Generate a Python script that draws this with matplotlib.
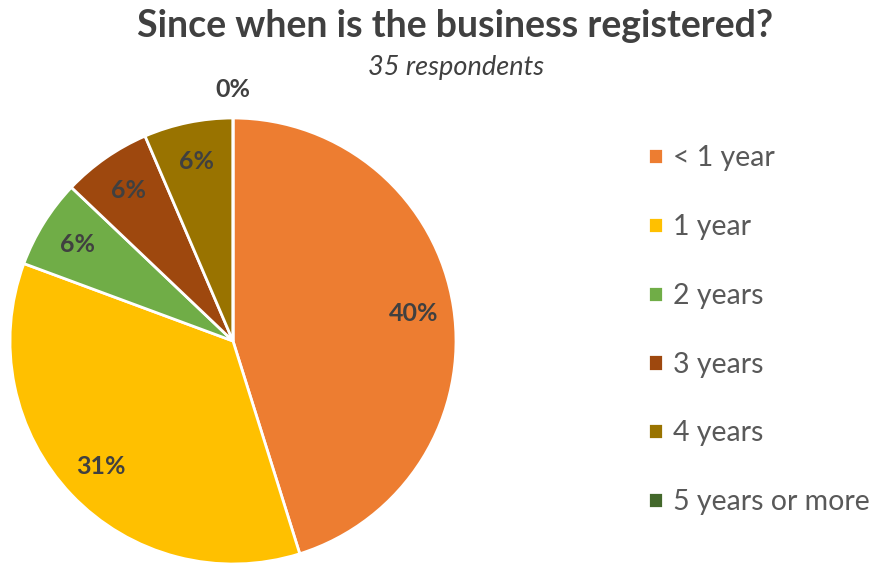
"""Pie chart: since when is the business registered (35 respondents)."""
import matplotlib
matplotlib.use("Agg")
import matplotlib.pyplot as plt
import numpy as np

plt.rcParams["font.family"] = ["Lato", "DejaVu Sans"]

categories = ["< 1 year", "1 year", "2 years", "3 years", "4 years", "5 years or more"]
counts = [14, 11, 2, 2, 2, 0]
n_respondents = 35
colors = ["#ED7D31", "#FFC000", "#70AD47", "#9E480E", "#997300", "#43682B"]

TEXT = "#404040"

fig = plt.figure(figsize=(8.74, 5.66), dpi=100)
# square pie area, in pixels: centre (233, 341), radius 223
W, H = 874, 566
cx, cy, r = 233, 341, 223
ax = fig.add_axes([(cx - r) / W, (H - cy - r) / H, 2 * r / W, 2 * r / H])

wedges, _ = ax.pie(counts, colors=colors, startangle=90, counterclock=False,
                   radius=1.0, wedgeprops=dict(edgecolor="white", linewidth=2.0))
ax.set_xlim(-1, 1)
ax.set_ylim(-1, 1)
ax.set_aspect("equal")
ax.axis("off")

# data labels: percent of all respondents
for w, c in zip(wedges, counts):
    mid = np.deg2rad((w.theta1 + w.theta2) / 2)
    dist = 0.82 if c > 0 else 1.13
    pct = f"{round(100 * c / n_respondents):.0f}%"
    ax.text(dist * np.cos(mid), dist * np.sin(mid), pct, ha="center", va="center",
            fontsize=18, fontweight="bold", color=TEXT, clip_on=False)

fig.text(455 / W, 1 - 26 / H, "Since when is the business registered?", ha="center",
         va="center", fontsize=27, fontweight="bold", color=TEXT)
fig.text(456 / W, 1 - 68 / H, f"{n_respondents} respondents", ha="center", va="center",
         fontsize=19.5, style="italic", color=TEXT)

leg = fig.legend(wedges, categories, loc="upper left", bbox_to_anchor=(637 / W, 1 - 134 / H),
                 frameon=False, fontsize=20.5, handlelength=0.5, handleheight=0.5,
                 handletextpad=0.35, labelspacing=1.5, borderaxespad=0)
for t in leg.get_texts():
    t.set_color("#595959")

fig.savefig("out.png", dpi=100)
